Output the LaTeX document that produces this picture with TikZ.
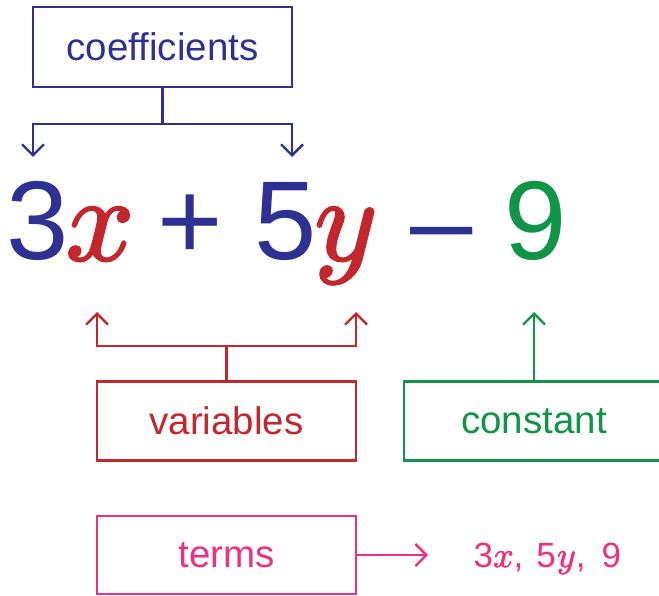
\documentclass[tikz,border=0pt]{standalone}
\usepackage{fontspec}
\usepackage{graphicx}
\setmainfont{Liberation Sans}[Ligatures=NoCommon]
\usetikzlibrary{arrows.meta}
\definecolor{cblue}{HTML}{2E3192}
\definecolor{cred}{HTML}{C1272D}
\definecolor{cgreen}{HTML}{0F9448}
\definecolor{cpink}{HTML}{EE2F82}
\newcommand\heavy[2]{\special{pdf:literal direct #1 w 2 Tr}#2\special{pdf:literal direct 0 Tr}}
\newcommand\bigsym[1]{{\fontsize{112}{112}\selectfont #1}}
\newcommand\bigvar[1]{\scalebox{12}{\fontsize{10}{10}\selectfont \heavy{0.2}{$#1$}}}
\newcommand\smallvar[1]{\scalebox{3.6}{\fontsize{10}{10}\selectfont \heavy{0.2}{$#1$}}}
\tikzset{
  labelbox/.style={draw, line width=2.3pt, minimum width=259pt, minimum height=79pt, inner sep=0pt, font=\fontsize{38.5}{40}\selectfont},
  eqsym/.style={anchor=base, inner sep=0pt},
  conn/.style={line width=2.3pt},
  arr/.style={conn, -{Straight Barb[length=11pt,width=22pt,line width=2.3pt]}}
}
\begin{document}
\begin{tikzpicture}[x=1pt,y=-1pt]
\useasboundingbox (0,0) rectangle (659,596);
% coefficients
\node[labelbox, color=cblue, minimum height=80pt] (coef) at (162.5,47) {coefficients};
\coordinate (cj) at (162.5,124);
\coordinate (cl) at (33,157);
\coordinate (cr) at (292,157);
\draw[conn, cblue] (coef.south) -- (cj);
\draw[arr, cblue] (cj) -| (cl);
\draw[arr, cblue] (cj) -| (cr);
% equation
\node[eqsym, text=cblue] (n3) at (38,260) {\bigsym{3}};
\node[eqsym, text=cred] (vx) at (100,260) {\bigvar{x}};
\node[eqsym, text=cblue] (plus) at (190.5,260) {\bigsym{+}};
\node[eqsym, text=cblue] (n5) at (285.5,260) {\bigsym{5}};
\node[eqsym, text=cred] (vy) at (346,260) {\bigvar{y}};
\node[eqsym, text=cblue] (minus) at (441.5,260) {\bigsym{–}};
\node[eqsym, text=cgreen] (n9) at (535.5,260) {\bigsym{9}};
% variables
\node[labelbox, color=cred] (vars) at (226.5,421) {variables};
\coordinate (vj) at (226.5,346);
\coordinate (vl) at (97,312);
\coordinate (vr) at (356,312);
\draw[conn, cred] (vars.north) -- (vj);
\draw[arr, cred] (vj) -| (vl);
\draw[arr, cred] (vj) -| (vr);
% constant
\node[labelbox, color=cgreen, minimum width=260pt] (const) at (534,421) {constant};
\coordinate (ct) at (534,312);
\draw[arr, cgreen] (const.north) -- (ct);
% terms
\node[labelbox, color=cpink, minimum height=78pt] (terms) at (226.5,555) {terms};
\coordinate (tt) at (428,555);
\draw[arr, cpink] (terms.east) -- (tt);
\node[anchor=base west, inner sep=0pt, text=cpink, font=\fontsize{35}{35}\selectfont] (tlist) at (473.5,567) {3\smallvar{x},\hspace{13pt}5\kern1pt\smallvar{y},\hspace{16pt}9};
\end{tikzpicture}
\end{document}
